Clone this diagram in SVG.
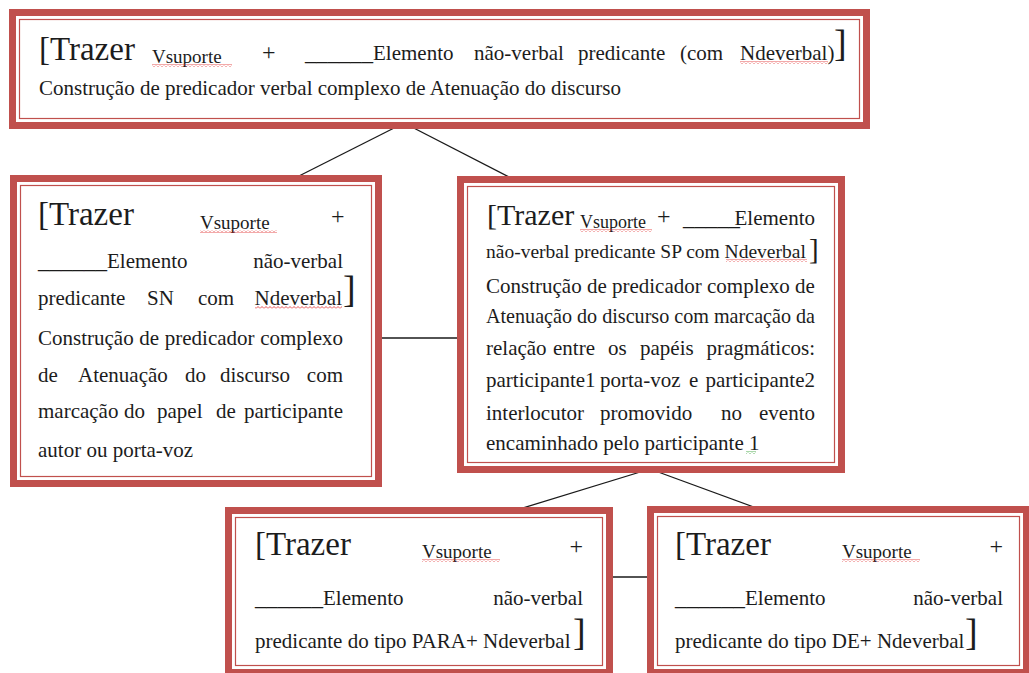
<svg xmlns="http://www.w3.org/2000/svg" width="1029" height="673" viewBox="0 0 1029 673" font-family="'Liberation Serif', 'Times New Roman', 'DejaVu Serif', serif">
<style>
text{font-family:"Liberation Serif","Times New Roman","DejaVu Serif",serif}
.t{font-size:21px;fill:#1c1c1c}
.big{font-size:33px}
.mid{font-size:30px}
.br{font-size:38px}
.sub{font-size:19px}
.plus{font-size:24px}
.e{text-anchor:end}
.outer{fill:#fff;stroke:#C0504D;stroke-width:7}
.inner{fill:none;stroke:#C0504D;stroke-width:1.2}
.conn line{stroke:#1a1a1a;stroke-width:1.3}
.sq{fill:url(#sq)}
.sqg{fill:url(#sqg)}
</style>
<defs>
<pattern id="sq" width="4" height="3" patternUnits="userSpaceOnUse"><path d="M0 2.5 L2 0.5 L4 2.5" fill="none" stroke="#e02828" stroke-width="0.8"/></pattern>
<pattern id="sqg" width="4" height="3" patternUnits="userSpaceOnUse"><path d="M0 2.5 L2 0.5 L4 2.5" fill="none" stroke="#2a9a2a" stroke-width="0.8"/></pattern>
</defs>
<rect width="1029" height="673" fill="#fff"/>

<g id="connectors" class="conn">
<line x1="404" y1="123" x2="295" y2="178"/>
<line x1="404" y1="123" x2="517" y2="181"/>
<line x1="375" y1="338" x2="465" y2="338"/>
<line x1="650" y1="469" x2="513" y2="511"/>
<line x1="650" y1="469" x2="762" y2="510"/>
<line x1="608" y1="577" x2="652" y2="577"/>
</g>

<g id="top">
<rect class="outer" x="12.5" y="12.5" width="854" height="113"/>
<rect class="inner" x="19.5" y="19.5" width="840" height="99"/>
<text class="t big" x="39" y="60">[Trazer</text>
<text class="t sub" x="152" y="63">Vsuporte</text>
<rect class="sq" x="152" y="64" width="80" height="3"/>
<text class="t plus" x="262" y="60">+</text>
<text class="t" x="305" y="60" textLength="68" lengthAdjust="spacingAndGlyphs">______</text>
<text class="t" x="373" y="60">Elemento</text>
<text class="t" x="474" y="60">não-verbal</text>
<text class="t" x="578" y="60">predicante</text>
<text class="t" x="680" y="60">(com</text>
<text class="t" x="740" y="60">Ndeverbal)</text>
<rect class="sq" x="740" y="61" width="88" height="3"/>
<text class="t br" x="834" y="56">]</text>
<text class="t" x="39" y="95">Construção de predicador verbal complexo de Atenuação do discurso</text>
</g>

<g id="left">
<rect class="outer" x="13.5" y="178.5" width="365" height="305"/>
<rect class="inner" x="20.5" y="185.5" width="351" height="291"/>
<text class="t big" x="38" y="225">[Trazer</text>
<text class="t sub" x="200" y="229">Vsuporte</text>
<rect class="sq" x="200" y="230" width="77" height="3"/>
<text class="t plus" x="331" y="224">+</text>
<text class="t" x="38" y="268" textLength="69" lengthAdjust="spacingAndGlyphs">______</text>
<text class="t" x="107" y="268">Elemento</text>
<text class="t e" x="343" y="268">não-verbal</text>
<text class="t" x="38" y="305">predicante</text>
<text class="t" x="147" y="305">SN</text>
<text class="t" x="198" y="305">com</text>
<text class="t e" x="342" y="305">Ndeverbal</text>
<rect class="sq" x="255" y="306" width="87" height="3"/>
<text class="t br" x="343" y="302">]</text>
<text class="t" x="38" y="345">Construção</text>
<text class="t" x="139.3" y="345">de</text>
<text class="t" x="164.8" y="345">predicador</text>
<text class="t e" x="343" y="345">complexo</text>
<text class="t" x="38" y="382">de</text>
<text class="t" x="78" y="382">Atenuação</text>
<text class="t" x="185" y="382">do</text>
<text class="t" x="220" y="382">discurso</text>
<text class="t e" x="343" y="382">com</text>
<text class="t" x="38" y="418">marcação</text>
<text class="t" x="124" y="418">do</text>
<text class="t" x="157" y="418">papel</text>
<text class="t" x="216" y="418">de</text>
<text class="t e" x="343" y="418">participante</text>
<text class="t" x="38" y="457">autor ou porta-voz</text>
</g>

<g id="middle">
<rect class="outer" x="460.5" y="179.5" width="381" height="290"/>
<rect class="inner" x="467.5" y="186.5" width="367" height="276"/>
<text class="t mid" x="487" y="225">[Trazer</text>
<text class="t" x="580" y="228" style="font-size:18px">Vsuporte</text>
<rect class="sq" x="580" y="229" width="72" height="3"/>
<text class="t plus" x="657" y="224">+</text>
<text class="t" x="683" y="225" textLength="57" lengthAdjust="spacingAndGlyphs">_____</text>
<text class="t e" x="815" y="225">Elemento</text>
<text class="t" x="486" y="258" style="font-size:19.5px">não-verbal predicante SP com Ndeverbal</text>
<rect class="sq" x="726" y="259" width="81" height="3"/>
<text class="t" x="809" y="259" style="font-size:29px">]</text>
<text class="t" x="486" y="293">Construção de predicador complexo de</text>
<text class="t" x="486" y="323" textLength="329" lengthAdjust="spacingAndGlyphs">Atenuação do discurso com marcação da</text>
<text class="t" x="486" y="355">relação</text>
<text class="t" x="553" y="355">entre</text>
<text class="t" x="608" y="355">os</text>
<text class="t" x="640" y="355">papéis</text>
<text class="t e" x="815" y="355">pragmáticos:</text>
<text class="t" x="486" y="387">participante1</text>
<text class="t" x="600" y="387">porta-voz</text>
<text class="t" x="689" y="387">e</text>
<text class="t e" x="815" y="387">participante2</text>
<text class="t" x="486" y="420">interlocutor</text>
<text class="t" x="600" y="420">promovido</text>
<text class="t" x="721" y="420">no</text>
<text class="t e" x="815" y="420">evento</text>
<text class="t" x="486" y="450">encaminhado pelo participante 1</text>
<rect class="sqg" x="746" y="451" width="10" height="3"/>
</g>

<g id="bottom-left">
<rect class="outer" x="228.5" y="510.5" width="381" height="162"/>
<rect class="inner" x="235.5" y="517.5" width="367" height="148"/>
<text class="t big" x="255" y="555">[Trazer</text>
<text class="t sub" x="422" y="558">Vsuporte</text>
<rect class="sq" x="422" y="559" width="78" height="3"/>
<text class="t plus e" x="583" y="554">+</text>
<text class="t" x="255" y="605" textLength="68" lengthAdjust="spacingAndGlyphs">______</text>
<text class="t" x="323" y="605">Elemento</text>
<text class="t e" x="583" y="605">não-verbal</text>
<text class="t" x="255" y="648">predicante do tipo PARA+ Ndeverbal</text>
<text class="t br" x="573" y="645">]</text>
</g>

<g id="bottom-right">
<rect class="outer" x="650.5" y="509.5" width="376" height="163"/>
<rect class="inner" x="657.5" y="516.5" width="362" height="149"/>
<text class="t big" x="675" y="555">[Trazer</text>
<text class="t sub" x="842" y="558">Vsuporte</text>
<rect class="sq" x="842" y="559" width="78" height="3"/>
<text class="t plus e" x="1003" y="554">+</text>
<text class="t" x="675" y="605" textLength="70" lengthAdjust="spacingAndGlyphs">______</text>
<text class="t" x="745" y="605">Elemento</text>
<text class="t e" x="1003" y="605">não-verbal</text>
<text class="t" x="675" y="648">predicante do tipo DE+ Ndeverbal</text>
<text class="t br" x="965" y="645">]</text>
</g>
</svg>
